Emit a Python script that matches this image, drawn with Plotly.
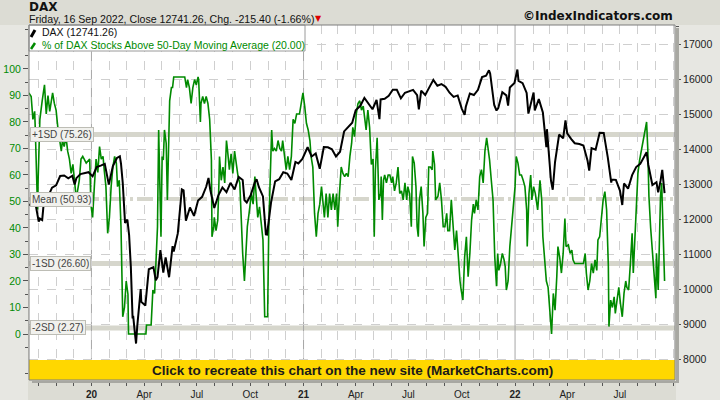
import plotly.graph_objects as go

# ---------------- data ----------------
dax_dates = ["2019-09-16","2019-09-20","2019-09-27","2019-10-02","2019-10-04","2019-10-08","2019-10-11","2019-10-18","2019-10-25",
"2019-11-01","2019-11-08","2019-11-15","2019-11-22","2019-11-29","2019-12-03","2019-12-06","2019-12-13","2019-12-20","2019-12-27",
"2020-01-03","2020-01-10","2020-01-17","2020-01-24","2020-01-31","2020-02-07","2020-02-14","2020-02-19","2020-02-21","2020-02-24",
"2020-02-28","2020-03-03","2020-03-06","2020-03-09","2020-03-12","2020-03-13","2020-03-16","2020-03-18","2020-03-20","2020-03-24",
"2020-03-26","2020-03-27","2020-04-01","2020-04-03","2020-04-09","2020-04-17","2020-04-21","2020-04-24","2020-04-29","2020-05-04",
"2020-05-08","2020-05-14","2020-05-20","2020-05-22","2020-05-29","2020-06-05","2020-06-08","2020-06-12","2020-06-19","2020-06-26",
"2020-07-03","2020-07-10","2020-07-17","2020-07-21","2020-07-24","2020-07-31","2020-08-07","2020-08-14","2020-08-21","2020-08-28",
"2020-09-04","2020-09-11","2020-09-18","2020-09-21","2020-09-25","2020-10-02","2020-10-09","2020-10-12","2020-10-16","2020-10-23",
"2020-10-28","2020-10-30","2020-11-06","2020-11-13","2020-11-20","2020-11-27","2020-12-04","2020-12-11","2020-12-18","2020-12-23",
"2020-12-30","2021-01-08","2021-01-15","2021-01-22","2021-01-29","2021-02-05","2021-02-12","2021-02-19","2021-02-26","2021-03-05",
"2021-03-12","2021-03-19","2021-03-26","2021-04-01","2021-04-09","2021-04-16","2021-04-23","2021-04-30","2021-05-07","2021-05-12",
"2021-05-14","2021-05-21","2021-05-28","2021-06-04","2021-06-11","2021-06-18","2021-06-25","2021-07-02","2021-07-09","2021-07-16",
"2021-07-19","2021-07-23","2021-07-30","2021-08-06","2021-08-13","2021-08-20","2021-08-27","2021-09-03","2021-09-10","2021-09-17",
"2021-09-24","2021-10-01","2021-10-06","2021-10-08","2021-10-15","2021-10-22","2021-10-29","2021-11-05","2021-11-12","2021-11-17",
"2021-11-19","2021-11-26","2021-11-30","2021-12-03","2021-12-10","2021-12-17","2021-12-20","2021-12-23","2021-12-31","2022-01-05",
"2022-01-07","2022-01-14","2022-01-21","2022-01-24","2022-01-28","2022-02-02","2022-02-04","2022-02-11","2022-02-18","2022-02-24",
"2022-02-25","2022-03-04","2022-03-07","2022-03-11","2022-03-18","2022-03-25","2022-03-29","2022-04-01","2022-04-08","2022-04-14",
"2022-04-22","2022-04-29","2022-05-06","2022-05-09","2022-05-13","2022-05-20","2022-05-27","2022-06-03","2022-06-10","2022-06-16",
"2022-06-17","2022-06-24","2022-07-01","2022-07-05","2022-07-08","2022-07-15","2022-07-22","2022-07-29","2022-08-05","2022-08-12",
"2022-08-16","2022-08-19","2022-08-26","2022-09-02","2022-09-05","2022-09-09","2022-09-12","2022-09-16"]
dax_close = [12380,12468,12381,11925,12013,11970,12512,12634,12895,
12962,13229,13242,13164,13236,12989,13167,13283,13319,13337,
13219,13483,13526,13577,12982,13514,13744,13789,13579,13035,
11890,11985,11541,10625,9161,9232,8742,8442,8929,9701,
10001,9633,9544,9525,10565,10626,10250,10337,11108,10467,
10904,10337,11223,11074,11587,12848,12820,11949,12331,12089,
12528,12633,12920,13171,12838,12313,12674,12901,12765,13033,
12842,13203,13116,12542,12469,12689,13051,13138,12909,12646,
11561,11556,12480,13077,13137,13335,13298,13114,13630,13588,
13719,14050,13787,13874,13433,14057,14050,13993,13786,13921,
14502,14621,14749,15107,15234,15460,15280,15136,15400,14851,
15417,15437,15520,15693,15693,15448,15607,15650,15688,15540,
15133,15669,15544,15761,15977,15808,15852,15781,15609,15490,
15531,15156,14973,15206,15587,15543,15689,16054,16094,16251,
16160,15257,15100,15170,15623,15532,15240,15756,15885,16271,
15948,15883,15603,15011,15318,15613,15100,15425,15042,14052,
14567,13094,12835,13628,14413,14306,14820,14446,14284,14164,
14142,14098,13674,13381,14027,13982,14462,14460,13762,13038,
13126,13118,12813,12401,13015,12865,13254,13484,13574,13795,
13910,13544,12972,13050,12761,13088,13402,12741.26]

pct_dates = ["2019-09-15","2019-09-19","2019-09-22","2019-09-25","2019-09-26","2019-09-29","2019-09-30","2019-10-01","2019-10-04","2019-10-08",
"2019-10-12","2019-10-15","2019-10-18","2019-10-21","2019-10-23","2019-10-26","2019-10-29","2019-11-01","2019-11-04","2019-11-07",
"2019-11-10","2019-11-12","2019-11-15","2019-11-18","2019-11-21","2019-11-24","2019-11-27","2019-11-30","2019-12-03","2019-12-06",
"2019-12-08","2019-12-11","2019-12-14","2019-12-17","2019-12-23","2019-12-29","2019-12-31","2020-01-03","2020-01-06","2020-01-09",
"2020-01-12","2020-01-15","2020-01-18","2020-01-21","2020-01-23","2020-01-26","2020-01-29","2020-02-01","2020-02-04","2020-02-07",
"2020-02-10","2020-02-13","2020-02-15","2020-02-18","2020-02-21","2020-02-24","2020-02-27","2020-03-01","2020-03-04","2020-03-05",
"2020-04-04","2020-04-05","2020-04-13","2020-04-15","2020-04-16","2020-04-19","2020-04-22","2020-04-24","2020-04-26","2020-04-29",
"2020-04-30","2020-05-02","2020-05-04","2020-05-06","2020-05-09","2020-05-11","2020-05-13","2020-05-15","2020-05-18","2020-05-20",
"2020-05-22","2020-06-10","2020-06-13","2020-06-15","2020-06-18","2020-06-21","2020-06-24","2020-06-27","2020-06-30","2020-07-03",
"2020-07-04","2020-07-07","2020-07-08","2020-07-11","2020-07-14","2020-07-17","2020-07-20","2020-07-23","2020-07-26","2020-07-27",
"2020-07-30","2020-07-31","2020-08-03","2020-08-06","2020-08-08","2020-08-09","2020-08-12","2020-08-15","2020-08-18","2020-08-21",
"2020-08-23","2020-08-26","2020-08-29","2020-09-01","2020-09-04","2020-09-07","2020-09-10","2020-09-13","2020-09-15","2020-09-18",
"2020-09-21","2020-09-24","2020-09-26","2020-09-29","2020-10-03","2020-10-06","2020-10-09","2020-10-11","2020-10-14","2020-10-17",
"2020-10-20","2020-10-23","2020-10-26","2020-10-31","2020-11-02","2020-11-05","2020-11-07","2020-11-09","2020-11-12","2020-11-15",
"2020-11-18","2020-11-21","2020-11-24","2020-11-26","2020-11-29","2020-12-02","2020-12-05","2020-12-08","2020-12-11","2020-12-14",
"2020-12-17","2020-12-20","2020-12-22","2020-12-25","2020-12-28","2020-12-31","2021-01-03","2021-01-06","2021-01-09","2021-01-12",
"2021-01-14","2021-01-17","2021-01-20","2021-01-23","2021-01-26","2021-01-29","2021-02-01","2021-02-04","2021-02-06","2021-02-09",
"2021-02-12","2021-02-15","2021-02-18","2021-02-21","2021-02-24","2021-02-27","2021-03-01","2021-03-04","2021-03-07","2021-03-10",
"2021-03-13","2021-03-16","2021-03-19","2021-03-22","2021-03-25","2021-03-27","2021-03-30","2021-04-02","2021-04-05","2021-04-08",
"2021-04-11","2021-04-14","2021-04-17","2021-04-19","2021-04-22","2021-04-25","2021-04-28","2021-05-01","2021-05-03","2021-05-05",
"2021-05-08","2021-05-09","2021-05-11","2021-05-14","2021-05-15","2021-05-17","2021-05-19","2021-05-21","2021-05-24","2021-05-27",
"2021-05-30","2021-06-02","2021-06-04","2021-06-07","2021-06-10","2021-06-13","2021-06-16","2021-06-19","2021-06-22","2021-06-25",
"2021-06-28","2021-06-30","2021-07-03","2021-07-06","2021-07-08","2021-07-11","2021-07-14","2021-07-16","2021-07-18","2021-07-20",
"2021-07-23","2021-07-26","2021-07-28","2021-07-31","2021-08-03","2021-08-05","2021-08-08","2021-08-11","2021-08-12","2021-08-15",
"2021-08-17","2021-08-21","2021-08-24","2021-08-27","2021-08-30","2021-09-02","2021-09-05","2021-09-07","2021-09-10","2021-09-13",
"2021-09-16","2021-09-19","2021-09-22","2021-09-25","2021-09-28","2021-09-30","2021-10-03","2021-10-06","2021-10-09","2021-10-12",
"2021-10-15","2021-10-18","2021-10-21","2021-10-23","2021-10-26","2021-10-29","2021-11-01","2021-11-04","2021-11-07","2021-11-10",
"2021-11-13","2021-11-15","2021-11-18","2021-11-21","2021-11-24","2021-11-27","2021-11-30","2021-12-02","2021-12-04","2021-12-07",
"2021-12-10","2021-12-13","2021-12-15","2021-12-17","2021-12-20","2021-12-23","2021-12-26","2021-12-29","2022-01-01","2022-01-03",
"2022-01-06","2022-01-09","2022-01-12","2022-01-15","2022-01-18","2022-01-21","2022-01-22","2022-01-25","2022-01-28","2022-01-30",
"2022-02-02","2022-02-05","2022-02-09","2022-02-13","2022-02-16","2022-02-18","2022-02-21","2022-02-24","2022-02-27","2022-03-02",
"2022-03-05","2022-03-08","2022-03-11","2022-03-14","2022-03-16","2022-03-19","2022-03-22","2022-03-25","2022-03-28","2022-03-30",
"2022-04-03","2022-04-06","2022-04-09","2022-04-11","2022-04-14","2022-04-29","2022-05-02","2022-05-04","2022-05-07","2022-05-10",
"2022-05-13","2022-05-16","2022-05-19","2022-05-22","2022-05-24","2022-05-27","2022-05-30","2022-06-02","2022-06-05","2022-06-08",
"2022-06-11","2022-06-12","2022-06-15","2022-06-18","2022-06-21","2022-06-23","2022-06-26","2022-06-29","2022-07-02","2022-07-05",
"2022-07-08","2022-07-11","2022-07-13","2022-07-16","2022-07-19","2022-07-22","2022-07-24","2022-07-27","2022-07-30","2022-08-01",
"2022-08-04","2022-08-07","2022-08-10","2022-08-13","2022-08-16","2022-08-18","2022-08-20","2022-08-23","2022-08-26","2022-08-28",
"2022-09-01","2022-09-02","2022-09-04","2022-09-05","2022-09-07","2022-09-09","2022-09-11","2022-09-12","2022-09-14","2022-09-15",
"2022-09-16"]
pct_values = [91,89.6,81,84,78,58,47,58,81,88,
94,83,90,84,87,91,87,84.5,78,73,
69,73,70.7,74.5,69,66,60.6,64,58,50.6,
54,58,66,67,64.5,66,49,44,55.6,66,
61,70.7,66,67,62,55.6,38,44,55.6,63,
67,64.5,55.6,58,40.5,6.5,10,20,15,0,
0,3.4,3.4,10,16.6,15.3,28,40.5,77,50.6,
36.7,67,65.7,77,72,50.6,77,88,93,93,
97,97,93,96,93,87,93,96,94,97,
96,80,87,89.6,87,89.6,87,81,65.7,36.7,
40.5,44,39,43,57,67,58,63,57,73,
69,62,68,60.6,69,63,59.4,57,43,30.4,
20,35.5,40.5,45.5,53,49,59.4,53,44,48,
40.5,35.5,6.5,6.5,40.5,62,77,69,70,69,
73,70,69,73,67,62,67,62,67,81,
79.5,83,83,83,87,91,86,79.5,77,73,
67,63,45.5,36.7,45.5,49,55.6,46.8,44,53,
44,53,46.8,53,46.8,53,40.5,53,63,60.6,
59.4,60.6,59.4,67,72,78,74.5,83,87,88,
84.5,86,81,77,84.5,78,64,66,36.7,62,
74,63,50.6,53,59.4,43,58,60,57,60,
60,57,59.4,54,57,63,53,54,50.6,57,
50.6,55.6,53,40.5,67,64.5,55.6,40.5,36.7,50.6,
55.6,45.5,33,44,45.5,63,63,62,69,64,
50.6,52,57,50.6,40.5,40.5,45.5,39,39,50.6,
40.5,31.7,39,28,20,16.6,12.8,29,36.7,21.6,
30.4,43,49,45.5,50.6,46.8,59.4,62,57,69,
74,70.7,65.7,58,50.6,29,18,30.4,24,26.6,
30.4,28,25.4,16.6,20,33,41.8,46.8,55.6,67,
64.5,60,60,58,55.6,46.8,33,53,60,50.6,
55.6,53,46.8,58,50.6,36.7,26.6,20,17.6,10,
0,15.3,9,21.6,33,29,23,30.4,43.6,33,
33.6,30.4,31.7,28,26.6,26.6,30.4,23,16.6,20,
26.6,23,28,24,35.5,36.7,44.3,50.6,53.7,46.8,
25.4,2.8,12.8,10,14,7.8,12.8,17.6,11.3,6.5,
15.3,20,17.6,16.6,26.6,38,23,35.5,50.6,60.6,
65.7,69,73,77,80,70,52,40,30,27,
13.5,30.5,20.4,16.6,34,52,57,50,33,27,
20]

sd_values = [75.26, 50.93, 26.60, 2.27]
sd_labels = ["+1SD (75.26)", "Mean (50.93)", "-1SD (26.60)", "-2SD (2.27)"]

x_tick_dates = ["2020-01-01","2020-04-01","2020-07-01","2020-10-01","2021-01-01","2021-04-01","2021-07-01","2021-10-01",
                "2022-01-01","2022-04-01","2022-07-01"]
x_tick_text = ["<b>20</b>","Apr","Jul","Oct","<b>21</b>","Apr","Jul","Oct","<b>22</b>","Apr","Jul"]
month_dates = ["2019-10-01","2019-11-01","2019-12-01","2020-02-01","2020-03-01","2020-05-01","2020-06-01","2020-08-01",
               "2020-09-01","2020-11-01","2020-12-01","2021-02-01","2021-03-01","2021-05-01","2021-06-01","2021-08-01",
               "2021-09-01","2021-11-01","2021-12-01","2022-02-01","2022-03-01","2022-05-01","2022-06-01","2022-08-01",
               "2022-09-01","2022-10-01"]
year_starts = ["2020-01-01", "2021-01-01", "2022-01-01"]
pct_ticks = [0, 10, 20, 30, 40, 50, 60, 70, 80, 90, 100]
pct_minor = [-15, -5, 5, 15, 25, 35, 45, 55, 65, 75, 85, 95, 105, 115]
dax_ticks = [8000, 9000, 10000, 11000, 12000, 13000, 14000, 15000, 16000, 17000]
dax_tick_text = ["8000", "9000", "10000", "11000", "12000", "13000", "14000", "15000", "16000", "17000"]
dax_minor = [7500, 8500, 9500, 10500, 11500, 12500, 13500, 14500, 15500, 16500, 17500]

# ---------------- layout helpers ----------------
W, H = 720, 400
PL, PR, PT, PB = 29, 675, 25, 380
def fx(x):
    return (x - PL) / (PR - PL)
def fy(y):
    return (PB - y) / (PB - PT)

GREEN = "#008a00"
GRID = "#cfcfcf"
FONT = "Liberation Sans"

fig = go.Figure()
fig.add_trace(go.Scatter(x=pct_dates, y=pct_values, mode="lines", yaxis="y",
                         line=dict(color=GREEN, width=1.6), hoverinfo="skip"))
fig.add_trace(go.Scatter(x=dax_dates, y=dax_close, mode="lines", yaxis="y2",
                         line=dict(color="#000000", width=2), hoverinfo="skip"))

shapes = []
# side panels
shapes.append(dict(type="rect", xref="paper", yref="paper", x0=fx(0), x1=fx(PL - 1), y0=fy(400), y1=fy(PT),
                   fillcolor="#e7e7e2", line=dict(width=0), layer="below"))
shapes.append(dict(type="rect", xref="paper", yref="paper", x0=fx(PR + 1), x1=fx(720), y0=fy(400), y1=fy(PT),
                   fillcolor="#e7e7e2", line=dict(width=0), layer="below"))
# SD bands
for v in sd_values:
    if v == sd_values[1]:
        shapes.append(dict(type="line", xref="paper", yref="y", x0=0, x1=1, y0=v, y1=v,
                           line=dict(color="#d6d6cc", width=4, dash="16px,4px,3px,4px"), layer="between"))
    else:
        shapes.append(dict(type="line", xref="paper", yref="y", x0=0, x1=1, y0=v, y1=v,
                           line=dict(color="#d6d6cc", width=5), layer="between"))
# year lines
for d in year_starts:
    shapes.append(dict(type="line", xref="x", yref="paper", x0=d, x1=d, y0=0, y1=1,
                       line=dict(color="#a6a6a6", width=1), layer="between"))
# banner
shapes.append(dict(type="rect", xref="paper", yref="paper", x0=0, x1=1, y0=0, y1=fy(360),
                   fillcolor="#ffd700", line=dict(width=0), layer="above"))
# legend box
shapes.append(dict(type="rect", xref="paper", yref="paper", x0=fx(29), x1=fx(305), y0=fy(51), y1=fy(25),
                   fillcolor="#ffffff", line=dict(color="#9a9a9a", width=1), layer="above"))
shapes.append(dict(type="line", xref="paper", yref="paper", x0=fx(31), x1=fx(35), y0=fy(37), y1=fy(30),
                   line=dict(color="#000000", width=3), layer="above"))
shapes.append(dict(type="line", xref="paper", yref="paper", x0=fx(31), x1=fx(35), y0=fy(49), y1=fy(43),
                   line=dict(color=GREEN, width=2.5), layer="above"))
# frame + shadow
shapes.append(dict(type="rect", xref="paper", yref="paper", x0=fx(PR + 1), x1=fx(PR + 4), y0=fy(PB + 3), y1=fy(PT + 3),
                   fillcolor="#a8a8a2", line=dict(width=0), layer="above"))
shapes.append(dict(type="rect", xref="paper", yref="paper", x0=fx(PL + 3), x1=fx(PR + 4), y0=fy(PB + 3), y1=fy(PB + 1),
                   fillcolor="#a8a8a2", line=dict(width=0), layer="above"))
shapes.append(dict(type="rect", xref="paper", yref="paper", x0=0, x1=1, y0=0, y1=1,
                   line=dict(color="#7d7d7d", width=1), layer="above"))

ann = []
ann.append(dict(text="<b>DAX</b>", x=fx(27), y=fy(7), xref="paper", yref="paper", xanchor="left", yanchor="middle",
                showarrow=False, font=dict(family="DejaVu Sans", size=12, color="#111")))
ann.append(dict(text="Friday, 16 Sep 2022, Close 12741.26, Chg. -215.40 (-1.66%)", x=fx(27), y=fy(18.5),
                xref="paper", yref="paper", xanchor="left", yanchor="middle", showarrow=False,
                font=dict(family=FONT, size=10.6, color="#111")))
ann.append(dict(text="▼", x=fx(318), y=fy(18.5), xref="paper", yref="paper", xanchor="center", yanchor="middle",
                showarrow=False, font=dict(family="DejaVu Sans", size=8, color="#dd0000")))
ann.append(dict(text="<b>©IndexIndicators.com</b>", x=fx(675), y=fy(16), xref="paper", yref="paper",
                xanchor="right", yanchor="middle", showarrow=False, font=dict(family="DejaVu Sans", size=12, color="#111")))
ann.append(dict(text="DAX (12741.26)", x=fx(40), y=fy(32), xref="paper", yref="paper", xanchor="left", yanchor="middle",
                showarrow=False, font=dict(family=FONT, size=10.5, color="#111")))
ann.append(dict(text="% of DAX Stocks Above 50-Day Moving Average (20.00)", x=fx(40), y=fy(44.5), xref="paper",
                yref="paper", xanchor="left", yanchor="middle", showarrow=False, font=dict(family=FONT, size=10.5, color=GREEN)))
for v, lab in zip(sd_values, sd_labels):
    ann.append(dict(text=lab, x=fx(30), y=v, xref="paper", yref="y", xanchor="left", yanchor="middle", showarrow=False,
                    bgcolor="#f1f1ed", bordercolor="#bdbdb5", borderwidth=1, borderpad=1,
                    font=dict(family=FONT, size=10, color="#444")))
ann.append(dict(text="<b>Click to recreate this chart on the new site (MarketCharts.com)</b>", x=0.5, y=fy(370),
                xref="paper", yref="paper", xanchor="center", yanchor="middle", showarrow=False,
                font=dict(family=FONT, size=13.5, color="#1a1a1a")))

fig.update_layout(
    template="none",
    width=W, height=H, margin=dict(l=PL, r=W - PR, t=PT, b=H - PB, pad=0, autoexpand=False),
    paper_bgcolor="#dcdcd4", plot_bgcolor="#ffffff", showlegend=False,
    shapes=shapes, annotations=ann,
    xaxis=dict(type="date", range=["2019-09-15 06:00", "2022-10-04"], tickmode="array", tickvals=x_tick_dates,
               ticktext=x_tick_text, ticks="outside", ticklen=5, tickcolor="#555", showgrid=True, gridcolor=GRID,
               griddash="dash", gridwidth=1, showline=False, zeroline=False, automargin=False,
               tickfont=dict(family=FONT, size=10, color="#222"),
               minor=dict(tickmode="array", tickvals=month_dates, ticks="outside", ticklen=5, tickcolor="#555",
                          showgrid=True, gridcolor=GRID, griddash="dash", gridwidth=1)),
    yaxis=dict(range=[-17.36, 116.6], tickmode="array", tickvals=pct_ticks, ticks="outside", ticklen=5,
               tickcolor="#555", showgrid=False, zeroline=False, showline=False, automargin=False,
               tickfont=dict(family=FONT, size=10.5, color=GREEN),
               minor=dict(tickmode="array", tickvals=pct_minor, ticks="outside", ticklen=3, tickcolor="#555",
                          showgrid=False)),
    yaxis2=dict(range=[7400, 17543], overlaying="y", side="right", tickmode="array", tickvals=dax_ticks,
                ticktext=dax_tick_text, ticks="outside", ticklen=5, tickcolor="#555", showgrid=True, gridcolor=GRID,
                griddash="dash", zeroline=False, showline=False, automargin=False,
                tickfont=dict(family=FONT, size=10.5, color="#222"),
                minor=dict(tickmode="array", tickvals=dax_minor, ticks="outside", ticklen=3, tickcolor="#555",
                           showgrid=False)),
)

fig.write_html("out.html", config={"displayModeBar": False, "staticPlot": True},
               post_script="document.body.style.margin='0px';")
